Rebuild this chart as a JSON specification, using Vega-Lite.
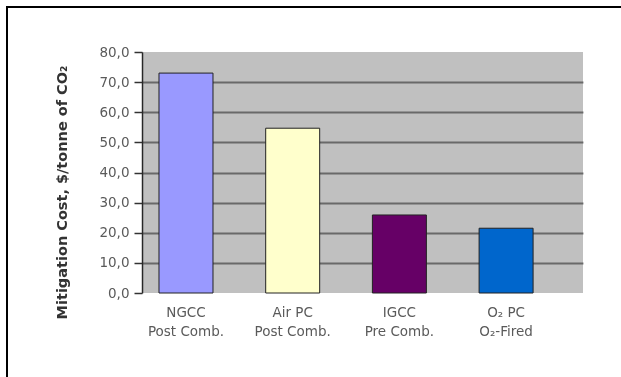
{
  "$schema": "https://vega.github.io/schema/vega-lite/v6.json",
  "autosize": {"type": "none"},
  "padding": {"left": 7, "top": 7, "right": 0, "bottom": -30},
  "width": 660,
  "height": 400,
  "background": "white",
  "view": {"stroke": "#000000", "strokeWidth": 2, "fill": "white"},
  "data": {
    "values": [
      {"tech": "NGCC\nPost Comb.", "cost": 73.0},
      {"tech": "Air PC\nPost Comb.", "cost": 54.7},
      {"tech": "IGCC\nPre Comb.", "cost": 25.9},
      {"tech": "O₂ PC\nO₂-Fired", "cost": 21.5}
    ]
  },
  "layer": [
    {
      "transform": [{"aggregate": [{"op": "count", "as": "n"}]}],
      "mark": {"type": "rect", "fill": "#c0c0c0", "blend": "multiply"},
      "encoding": {
        "x": {"datum": 0, "type": "quantitative", "scale": {"domain": [0, 1], "range": [135, 576]}, "axis": null},
        "x2": {"datum": 1},
        "y": {"datum": 0, "type": "quantitative"},
        "y2": {"datum": 80}
      }
    },
    {
      "mark": {"type": "bar", "stroke": "#222222", "strokeWidth": 1},
      "encoding": {
        "x": {
          "field": "tech",
          "type": "nominal",
          "sort": null,
          "scale": {"range": [135, 576], "paddingInner": 0.494, "paddingOuter": 0.3135, "align": 0.254},
          "axis": {
            "orient": "bottom",
            "offset": -114,
            "title": null,
            "domain": false,
            "ticks": false,
            "grid": false,
            "labelAngle": 0,
            "labelExpr": "split(datum.label, '\\n')",
            "labelLineHeight": 19,
            "labelFont": "DejaVu Sans",
            "labelFontSize": 13.5,
            "labelColor": "#5a5a5a",
            "labelPadding": 12,
            "labelBaseline": "top"
          }
        },
        "y": {
          "field": "cost",
          "type": "quantitative",
          "scale": {"domain": [0, 80], "range": [286, 45], "nice": false},
          "axis": {
            "orient": "left",
            "offset": -135,
            "values": [0, 10, 20, 30, 40, 50, 60, 70, 80],
            "labelExpr": "replace(format(datum.value, '.1f'), '.', ',')",
            "labelFont": "DejaVu Sans",
            "labelFontSize": 13.5,
            "labelColor": "#5a5a5a",
            "labelPadding": 5,
            "tickSize": 8,
            "tickColor": "#333333",
            "tickWidth": 1.5,
            "domainColor": "#333333",
            "domainWidth": 1.5,
            "grid": true,
            "gridColor": {"condition": {"test": "datum.value == 0 || datum.value == 80", "value": "transparent"}, "value": "#8c8c8c"},
            "gridWidth": 2,
            "title": "Mitigation Cost, $/tonne of CO₂",
            "titleFont": "DejaVu Sans",
            "titleFontSize": 14.5,
            "titleFontWeight": "bold",
            "titleColor": "#333333",
            "titleAngle": -90,
            "titleBaseline": "middle",
            "titleAlign": "center",
            "titleX": -80,
            "titleY": 185
          }
        },
        "color": {
          "field": "tech",
          "type": "nominal",
          "sort": null,
          "scale": {"range": ["#9999ff", "#ffffcc", "#660066", "#0066cc"]},
          "legend": null
        }
      }
    }
  ],
  "resolve": {"scale": {"x": "independent"}}
}
